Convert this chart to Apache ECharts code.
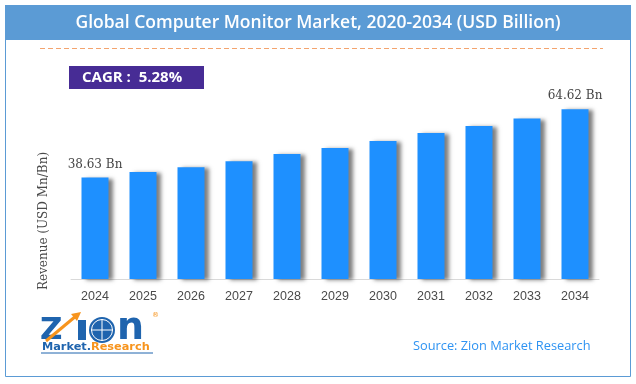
<!DOCTYPE html>
<html>
<head>
<meta charset="utf-8">
<script src="https://cdn.jsdelivr.net/npm/echarts@6/dist/echarts.min.js"></script>
<style>
html,body{margin:0;padding:0;background:#fff;}
#chart{width:636px;height:384px;}
</style>
</head>
<body>
<div id="chart"></div>
<script>
// ---- data ----
const years = ['2024','2025','2026','2027','2028','2029','2030','2031','2032','2033','2034'];
const revenue = [38.63, 40.8, 42.6, 44.9, 47.6, 49.9, 52.6, 55.6, 58.3, 61.1, 64.62];
const labelledIdx = [0, 10];
const titleText = 'Global Computer Monitor Market, 2020-2034 (USD Billion)';
const cagrText = 'CAGR :  5.28%';
const yAxisName = 'Revenue (USD Mn/Bn)';
const sourceText = 'Source: Zion Market Research';

const chart = echarts.init(document.getElementById('chart'), null, {renderer: 'canvas'});

const barData = revenue.map((v, i) => ({
  value: v,
  label: { show: labelledIdx.indexOf(i) >= 0 }
}));

const option = {
  animation: false,
  backgroundColor: '#ffffff',
  grid: { left: 71, right: 37, top: 90, bottom: 105, containLabel: false },
  xAxis: {
    type: 'category',
    data: years,
    axisLine: { show: true, lineStyle: { color: '#D9D9D9', width: 1 } },
    axisTick: { show: false },
    axisLabel: { color: '#4a4a4a', fontSize: 12.5, fontFamily: '"Liberation Sans", Arial, sans-serif', margin: 11 }
  },
  yAxis: {
    type: 'value',
    min: 0,
    max: 72,
    show: false
  },
  series: [{
    type: 'bar',
    data: barData,
    barWidth: 27,
    itemStyle: {
      color: '#1E90FF',
      shadowColor: 'rgba(0,0,0,0.5)',
      shadowBlur: 4,
      shadowOffsetX: 4,
      shadowOffsetY: 1
    },
    label: {
      position: 'top',
      distance: 7,
      color: '#454545',
      fontSize: 12,
      fontFamily: '"DejaVu Serif", serif',
      formatter: p => p.value + ' Bn'
    }
  }],
  graphic: [
    // outer frame
    { type: 'rect', z: 0, shape: { x: 5.5, y: 5.5, width: 625, height: 371 }, style: { fill: 'none', stroke: '#5B9BD5', lineWidth: 1 } },
    // title banner
    { type: 'rect', z: 1, shape: { x: 5, y: 5, width: 626, height: 35 }, style: { fill: '#5B9BD5' } },
    { type: 'text', z: 2, x: 318, y: 23, style: { text: titleText, fill: '#ffffff', font: '600 17.5px "Open Sans", sans-serif', textAlign: 'center', textVerticalAlign: 'middle' } },
    // dashed separator
    { type: 'line', z: 1, shape: { x1: 40, y1: 48.5, x2: 603, y2: 48.5 }, style: { stroke: '#F4A46E', lineWidth: 1, lineDash: [5, 3] } },
    // CAGR box
    { type: 'rect', z: 1, shape: { x: 69, y: 66, width: 135, height: 23 }, style: { fill: '#472C95' } },
    { type: 'text', z: 2, x: 82, y: 77.5, style: { text: cagrText, fill: '#ffffff', font: 'bold 15px "Open Sans", sans-serif', textAlign: 'left', textVerticalAlign: 'middle' } },
    // y axis name
    { type: 'text', z: 2, x: 44, y: 221, rotation: Math.PI / 2, style: { text: yAxisName, fill: '#4a4a4a', font: '12px "DejaVu Serif", serif', textAlign: 'center', textVerticalAlign: 'middle' } },
    // logo
    { type: 'text', z: 2, x: 40, y: 331, style: { text: 'Z', fill: '#1F64AE', font: 'bold 31px "DejaVu Sans", sans-serif', textAlign: 'left', textVerticalAlign: 'middle' } },
    { type: 'line', z: 3, shape: { x1: 46, y1: 341, x2: 76, y2: 316 }, style: { stroke: '#F7941D', lineWidth: 3 } },
    { type: 'polygon', z: 3, shape: { points: [[81, 312], [71, 314], [77, 321]] }, style: { fill: '#F7941D' } },
    { type: 'rect', z: 2, shape: { x: 78, y: 320, width: 8, height: 20 }, style: { fill: '#1F64AE' } },
    { type: 'circle', z: 2, shape: { cx: 102, cy: 330, r: 13 }, style: { fill: '#1F64AE' } },
    { type: 'circle', z: 3, shape: { cx: 102, cy: 330, r: 10.5 }, style: { fill: 'none', stroke: '#ffffff', lineWidth: 1 } },
    { type: 'line', z: 3, shape: { x1: 91, y1: 330, x2: 113, y2: 330 }, style: { stroke: '#ffffff', lineWidth: 1 } },
    { type: 'line', z: 3, shape: { x1: 102, y1: 319, x2: 102, y2: 341 }, style: { stroke: '#ffffff', lineWidth: 1 } },
    { type: 'text', z: 2, x: 117, y: 329, style: { text: 'n', fill: '#1F64AE', font: 'bold 38px "DejaVu Sans", sans-serif', textAlign: 'left', textVerticalAlign: 'middle' } },
    { type: 'text', z: 2, x: 152, y: 315, style: { text: '®', fill: '#F7941D', font: '7px "DejaVu Sans", sans-serif', textAlign: 'left', textVerticalAlign: 'middle' } },
    { type: 'text', z: 2, x: 42, y: 347, style: { text: '{a|Market.}{b|Research}', textAlign: 'left', textVerticalAlign: 'middle',
        rich: { a: { fill: '#1F64AE', font: 'bold 11.3px "DejaVu Sans", sans-serif' }, b: { fill: '#F7941D', font: 'bold 11.3px "DejaVu Sans", sans-serif' } } } },
    { type: 'line', z: 2, shape: { x1: 41, y1: 353, x2: 153, y2: 353 }, style: { stroke: '#1F64AE', lineWidth: 1 } },
    // source
    { type: 'text', z: 2, x: 413, y: 346, style: { text: sourceText, fill: '#2E93F2', font: '12.8px "Open Sans", sans-serif', textAlign: 'left', textVerticalAlign: 'middle' } }
  ]
};
chart.setOption(option);
</script>
</body>
</html>
